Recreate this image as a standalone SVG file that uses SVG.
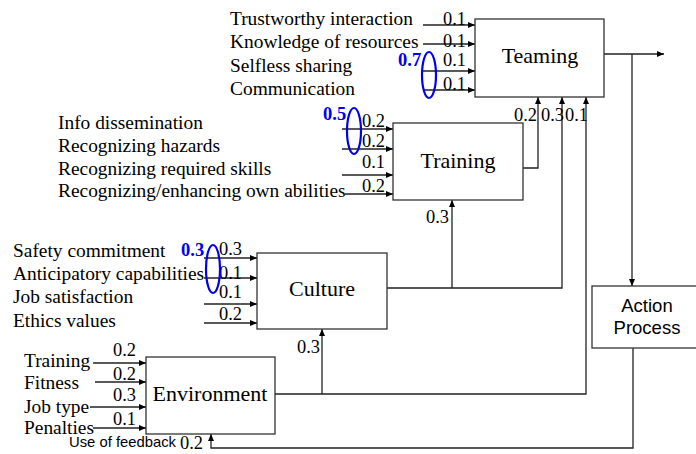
<svg xmlns="http://www.w3.org/2000/svg" width="696" height="454" viewBox="0 0 696 454">
<style>
.box{fill:#fff;stroke:#333;stroke-width:1.3}
.ln{fill:none;stroke:#222;stroke-width:1.3}
.t{font-family:"Liberation Serif","Times New Roman",serif;font-size:19.4px;fill:#000}
.w{font-family:"Liberation Serif","Times New Roman",serif;font-size:18.4px;fill:#000}
.n{font-family:"Liberation Serif","Times New Roman",serif;font-size:22px;fill:#000}
.s{font-family:"Liberation Sans",Arial,sans-serif;fill:#000}
.b{font-family:"Liberation Serif","Times New Roman",serif;font-size:18.5px;font-weight:bold;fill:#0000ee}
.e{fill:none;stroke:#0000ee;stroke-width:2.2}
</style>
<defs>
<marker id="ah" markerWidth="7" markerHeight="6" refX="7" refY="3" orient="auto" markerUnits="userSpaceOnUse">
<path d="M0,0 L7,3 L0,6 z" fill="#000"/>
</marker>
</defs>
<g id="connectors">
<path class="ln" d="M423,25 H475" marker-end="url(#ah)"/>
<path class="ln" d="M423,44 H475" marker-end="url(#ah)"/>
<path class="ln" d="M423,71 H475" marker-end="url(#ah)"/>
<path class="ln" d="M423,90 H475" marker-end="url(#ah)"/>
<path class="ln" d="M342,129 H393" marker-end="url(#ah)"/>
<path class="ln" d="M342,149 H393" marker-end="url(#ah)"/>
<path class="ln" d="M342,175 H393" marker-end="url(#ah)"/>
<path class="ln" d="M345,194 H393" marker-end="url(#ah)"/>
<path class="ln" d="M204,258 H257" marker-end="url(#ah)"/>
<path class="ln" d="M204,278 H257" marker-end="url(#ah)"/>
<path class="ln" d="M204,304 H257" marker-end="url(#ah)"/>
<path class="ln" d="M204,323 H257" marker-end="url(#ah)"/>
<path class="ln" d="M93,363 H146" marker-end="url(#ah)"/>
<path class="ln" d="M95,382 H146" marker-end="url(#ah)"/>
<path class="ln" d="M90,407 H146" marker-end="url(#ah)"/>
<path class="ln" d="M93,428 H146" marker-end="url(#ah)"/>
<path class="ln" d="M604,54 H664" marker-end="url(#ah)"/>
<path class="ln" d="M632,54 V286" marker-end="url(#ah)"/>
<path class="ln" d="M523,168 H538 V97" marker-end="url(#ah)"/>
<path class="ln" d="M387,288 H562 V97" marker-end="url(#ah)"/>
<path class="ln" d="M452,288 V200" marker-end="url(#ah)"/>
<path class="ln" d="M275,394 H586 V97" marker-end="url(#ah)"/>
<path class="ln" d="M322,394 V329" marker-end="url(#ah)"/>
<path class="ln" d="M633,348 V448 H211 V434" marker-end="url(#ah)"/>
</g>
<g id="teaming">
<rect class="box" x="475" y="19" width="129" height="78"/>
<text class="n" x="540" y="63" text-anchor="middle">Teaming</text>
</g>
<g id="training">
<rect class="box" x="393" y="123" width="130" height="77"/>
<text class="n" x="458" y="168" text-anchor="middle">Training</text>
</g>
<g id="culture">
<rect class="box" x="257" y="253" width="130" height="76"/>
<text class="n" x="322" y="296" text-anchor="middle">Culture</text>
</g>
<g id="environment">
<rect class="box" x="146" y="357" width="129" height="77"/>
<text class="n" x="210" y="401" text-anchor="middle">Environment</text>
</g>
<g id="action-process">
<rect class="box" x="592" y="286" width="112" height="62"/>
<text class="s" x="647" y="312" text-anchor="middle" font-size="18.5">Action</text>
<text class="s" x="647" y="334" text-anchor="middle" font-size="18.5">Process</text>
</g>
<g id="labels">
<text class="t" x="230" y="25">Trustworthy interaction</text>
<text class="t" x="230" y="48">Knowledge of resources</text>
<text class="t" x="230" y="72">Selfless sharing</text>
<text class="t" x="230" y="95">Communication</text>
<text class="w" x="443" y="25">0.1</text>
<text class="w" x="443" y="47">0.1</text>
<text class="w" x="443" y="66">0.1</text>
<text class="w" x="443" y="90">0.1</text>

<text class="t" x="58" y="129">Info dissemination</text>
<text class="t" x="58" y="152">Recognizing hazards</text>
<text class="t" x="58" y="175">Recognizing required skills</text>
<text class="t" x="58" y="197">Recognizing/enhancing own abilities</text>
<text class="w" x="362" y="127">0.2</text>
<text class="w" x="362" y="147">0.2</text>
<text class="w" x="362" y="168">0.1</text>
<text class="w" x="362" y="192">0.2</text>

<text class="t" x="13" y="257">Safety commitment</text>
<text class="t" x="13" y="280">Anticipatory capabilities</text>
<text class="t" x="13" y="303">Job satisfaction</text>
<text class="t" x="13" y="327">Ethics values</text>
<text class="w" x="219" y="255">0.3</text>
<text class="w" x="219" y="279">0.1</text>
<text class="w" x="219" y="298">0.1</text>
<text class="w" x="219" y="320">0.2</text>

<text class="t" x="24" y="367">Training</text>
<text class="t" x="24" y="389">Fitness</text>
<text class="t" x="24" y="413">Job type</text>
<text class="t" x="24" y="434">Penalties</text>
<text class="w" x="113" y="356">0.2</text>
<text class="w" x="113" y="380">0.2</text>
<text class="w" x="113" y="401">0.3</text>
<text class="w" x="113" y="425">0.1</text>

<text class="w" x="514" y="121">0.2</text>
<text class="w" x="541" y="121">0.3</text>
<text class="w" x="565" y="121">0.1</text>
<text class="w" x="426" y="223">0.3</text>
<text class="w" x="297" y="353">0.3</text>

<text class="s" x="69" y="447" font-size="14.8">Use of feedback</text>
<text class="w" x="180" y="449">0.2</text>
</g>
<g id="groupings">
<ellipse class="e" cx="429" cy="75" rx="7" ry="23"/>
<text class="b" x="398" y="66">0.7</text>
<ellipse class="e" cx="354" cy="131" rx="7" ry="23"/>
<text class="b" x="323" y="120">0.5</text>
<ellipse class="e" cx="213" cy="269" rx="7" ry="24"/>
<text class="b" x="181" y="256">0.3</text>
</g>
</svg>
